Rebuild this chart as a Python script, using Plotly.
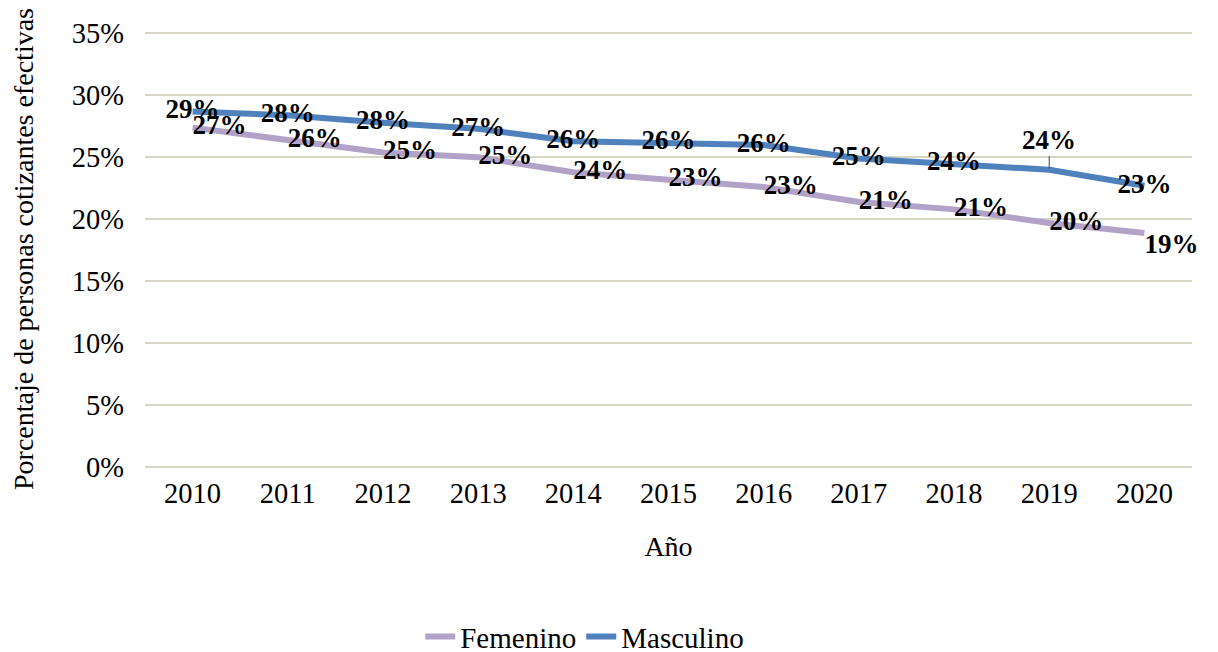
import plotly.graph_objects as go

years = ["2010", "2011", "2012", "2013", "2014", "2015", "2016", "2017", "2018", "2019", "2020"]
femenino = [27.4, 26.4, 25.4, 25.0, 23.8, 23.2, 22.6, 21.4, 20.8, 19.7, 18.9]
masculino = [28.7, 28.4, 27.8, 27.3, 26.3, 26.2, 26.0, 24.9, 24.5, 24.0, 22.7]
fem_labels = ["27%", "26%", "25%", "25%", "24%", "23%", "23%", "21%", "21%", "20%", "19%"]
mas_labels = ["29%", "28%", "28%", "27%", "26%", "26%", "26%", "25%", "24%", "24%", "23%"]
yticks = [0, 5, 10, 15, 20, 25, 30, 35]
ytick_labels = ["0%", "5%", "10%", "15%", "20%", "25%", "30%", "35%"]

FONT = "Liberation Serif"
label_font = dict(family=FONT, size=27, color="black", weight="bold")

fem_pos = ["middle right"] * 10 + ["bottom right"]
fig = go.Figure()
fig.add_trace(go.Scatter(
    x=years, y=femenino, name="Femenino", mode="lines+text",
    line=dict(color="#B3A2C7", width=6),
    text=fem_labels, textposition=fem_pos, textfont=label_font,
    cliponaxis=False,
))
i19 = years.index("2019")
mas_text = [t if i != i19 else "" for i, t in enumerate(mas_labels)]
fig.add_trace(go.Scatter(
    x=years, y=masculino, name="Masculino", mode="lines+text",
    line=dict(color="#4F81BD", width=6),
    text=mas_text, textposition="middle center", textfont=label_font,
    cliponaxis=False,
))
fig.add_annotation(
    x=i19, y=masculino[i19], xref="x", yref="y", text=mas_labels[i19], showarrow=True,
    arrowhead=0, arrowwidth=1, arrowcolor="#404040", ax=0, ay=-30,
    font=label_font, standoff=1,
)

fig.update_layout(
    width=1218, height=652,
    margin=dict(l=137, r=34, t=23, b=193, autoexpand=False),
    plot_bgcolor="white", paper_bgcolor="white",
    font=dict(family=FONT, size=28, color="black"),
    showlegend=True,
    legend=dict(orientation="h", x=0.42, xanchor="center",
                yref="container", y=0.036, yanchor="middle",
                font=dict(family=FONT, size=29), traceorder="normal"),
    xaxis=dict(
        type="category", range=[-0.5, 10.5], showgrid=False, showline=False,
        ticks="", tickfont=dict(family=FONT, size=28.5), automargin=False,
        ticklabelstandoff=6,
        title=dict(text="Año", font=dict(family=FONT, size=28), standoff=28),
    ),
    yaxis=dict(
        range=[0, 35.2], tickvals=yticks, ticktext=ytick_labels,
        showgrid=True, gridcolor="#D9D6C3", gridwidth=1.5,
        zeroline=True, zerolinecolor="#D9D6C3", zerolinewidth=1.5,
        ticks="", tickfont=dict(family=FONT, size=28.5), automargin=False,
        ticklabelstandoff=20,
        title=dict(text="Porcentaje de personas cotizantes efectivas",
                   font=dict(family=FONT, size=28), standoff=40),
    ),
)

fig.write_html("out.html")
